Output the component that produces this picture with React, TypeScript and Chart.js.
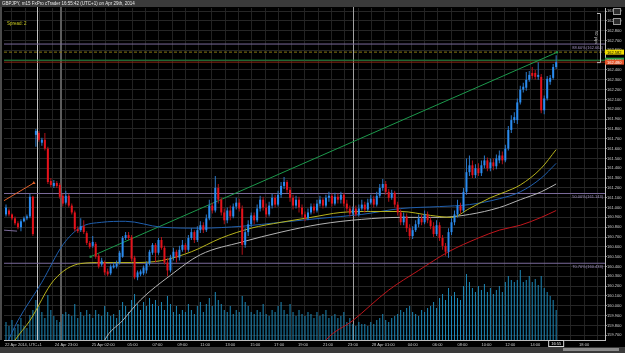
import React, { useEffect, useRef } from 'react';
import { Chart, registerables } from 'chart.js';

Chart.register(...registerables);

// ---------- data (GBPJPY m15) ----------
const OPEN = [
  160.93, 160.97, 160.93, 160.89, 160.84, 160.80, 160.86, 160.89, 160.91, 161.11,
  161.74, 161.76, 161.66, 161.69, 161.60, 161.27, 161.22, 161.25, 161.23, 161.12,
  161.05, 161.12, 161.02, 160.95, 160.78, 160.77, 160.81, 160.74, 160.64, 160.61,
  160.63, 160.51, 160.42, 160.44, 160.35, 160.33, 160.39, 160.40, 160.44, 160.50,
  160.69, 160.72, 160.70, 160.49, 160.29, 160.32, 160.33, 160.36, 160.43, 160.54,
  160.62, 160.54, 160.67, 160.59, 160.44, 160.36, 160.49, 160.55, 160.49, 160.57,
  160.62, 160.57, 160.69, 160.75, 160.67, 160.77, 160.82, 160.77, 160.89, 161.02,
  160.97, 161.20, 161.08, 160.95, 160.87, 160.97, 160.91, 161.01, 161.05, 160.99,
  160.62, 160.75, 160.83, 160.92, 160.87, 160.99, 161.08, 161.00, 160.93, 161.02,
  161.10, 161.03, 161.13, 161.22, 161.26, 161.18, 161.10, 161.02, 161.08, 161.00,
  160.93, 160.89, 160.95, 161.01, 160.97, 161.04, 161.08, 161.02, 161.10, 161.12,
  161.04, 161.11, 161.08, 161.13, 161.04, 160.99, 160.94, 160.99, 160.93, 160.99,
  161.03, 160.98, 161.05, 161.09, 161.03, 161.12, 161.20, 161.24, 161.16, 161.10,
  161.15, 161.03, 160.95, 160.85, 160.91, 160.79, 160.71, 160.77, 160.83, 160.89,
  160.85, 160.93, 160.87, 160.81, 160.73, 160.82, 160.69, 160.61, 160.55, 160.75,
  160.85, 160.93, 161.02, 160.97, 161.16, 161.36, 161.43, 161.33, 161.40, 161.35,
  161.43, 161.48, 161.40, 161.46, 161.42, 161.48, 161.53, 161.48, 161.60, 161.79,
  161.89, 161.89, 162.07, 162.20, 162.22, 162.30, 162.37, 162.37, 162.33, 162.33,
  161.99, 162.11, 162.28, 162.32, 162.43,
];
const HIGH = [
  161.03, 160.99, 160.94, 160.91, 160.86, 160.88, 160.91, 160.93, 161.14, 161.12,
  161.80, 161.78, 161.71, 161.76, 161.62, 161.30, 161.28, 161.27, 161.25, 161.14,
  161.17, 161.14, 161.04, 160.97, 160.81, 160.89, 160.87, 160.76, 160.66, 160.71,
  160.65, 160.53, 160.49, 160.46, 160.38, 160.42, 160.44, 160.46, 160.56, 160.71,
  160.75, 160.75, 160.72, 160.51, 160.36, 160.37, 160.41, 160.45, 160.57, 160.64,
  160.64, 160.69, 160.70, 160.61, 160.49, 160.52, 160.59, 160.57, 160.61, 160.67,
  160.64, 160.72, 160.79, 160.77, 160.81, 160.86, 160.85, 160.93, 161.08, 161.05,
  161.32, 161.24, 161.10, 160.99, 161.00, 161.02, 161.04, 161.10, 161.09, 161.02,
  160.79, 160.87, 160.95, 160.95, 161.03, 161.12, 161.11, 161.04, 161.06, 161.14,
  161.13, 161.17, 161.26, 161.31, 161.28, 161.21, 161.13, 161.12, 161.11, 161.03,
  160.96, 160.99, 161.04, 161.04, 161.08, 161.12, 161.10, 161.13, 161.16, 161.14,
  161.15, 161.14, 161.16, 161.15, 161.08, 161.02, 161.01, 161.02, 161.03, 161.08,
  161.06, 161.09, 161.13, 161.12, 161.16, 161.24, 161.29, 161.27, 161.19, 161.18,
  161.17, 161.06, 160.98, 160.95, 160.94, 160.83, 160.81, 160.87, 160.93, 160.93,
  160.97, 160.96, 160.90, 160.85, 160.87, 160.85, 160.72, 160.64, 160.79, 160.89,
  160.97, 161.08, 161.05, 161.20, 161.50, 161.53, 161.48, 161.44, 161.45, 161.48,
  161.53, 161.51, 161.50, 161.50, 161.54, 161.58, 161.57, 161.64, 161.83, 161.94,
  161.97, 162.11, 162.24, 162.27, 162.38, 162.39, 162.43, 162.40, 162.48, 162.36,
  162.14, 162.34, 162.35, 162.46, 162.55,
];
const LOW = [
  160.91, 160.91, 160.87, 160.82, 160.78, 160.76, 160.85, 160.87, 160.89, 160.71,
  161.62, 161.67, 161.63, 161.58, 161.24, 161.21, 161.20, 161.20, 161.09, 161.01,
  161.03, 161.00, 160.93, 160.76, 160.74, 160.75, 160.73, 160.62, 160.58, 160.59,
  160.48, 160.38, 160.40, 160.31, 160.30, 160.31, 160.38, 160.38, 160.42, 160.49,
  160.67, 160.67, 160.45, 160.27, 160.26, 160.30, 160.31, 160.33, 160.41, 160.52,
  160.44, 160.52, 160.57, 160.42, 160.30, 160.34, 160.46, 160.44, 160.46, 160.55,
  160.54, 160.55, 160.67, 160.64, 160.65, 160.74, 160.74, 160.75, 160.87, 160.94,
  160.95, 161.04, 160.92, 160.83, 160.84, 160.87, 160.89, 160.98, 160.96, 160.52,
  160.59, 160.71, 160.80, 160.83, 160.85, 160.96, 160.97, 160.90, 160.91, 160.99,
  161.00, 161.01, 161.10, 161.19, 161.15, 161.06, 160.98, 160.99, 160.95, 160.90,
  160.86, 160.87, 160.93, 160.94, 160.95, 161.01, 160.99, 161.00, 161.06, 161.01,
  161.02, 161.04, 161.04, 161.01, 160.96, 160.91, 160.92, 160.91, 160.91, 160.97,
  160.95, 160.96, 161.03, 161.00, 161.01, 161.10, 161.17, 161.13, 161.06, 161.08,
  161.00, 160.92, 160.82, 160.82, 160.75, 160.67, 160.68, 160.75, 160.80, 160.82,
  160.83, 160.84, 160.78, 160.70, 160.71, 160.66, 160.57, 160.51, 160.49, 160.72,
  160.82, 160.90, 160.94, 160.95, 161.13, 161.32, 161.30, 161.30, 161.32, 161.32,
  161.40, 161.37, 161.37, 161.38, 161.39, 161.45, 161.44, 161.46, 161.58, 161.76,
  161.86, 161.85, 162.05, 162.17, 162.19, 162.28, 162.31, 162.30, 162.30, 161.96,
  161.95, 162.09, 162.25, 162.30, 162.41,
];
const CLOSE = [
  161.00, 160.93, 160.89, 160.84, 160.80, 160.86, 160.89, 160.91, 161.11, 160.73,
  161.78, 161.69, 161.69, 161.60, 161.26, 161.23, 161.25, 161.22, 161.11, 161.04,
  161.12, 161.02, 160.95, 160.78, 160.76, 160.81, 160.75, 160.64, 160.60, 160.65,
  160.50, 160.40, 160.46, 160.34, 160.32, 160.40, 160.41, 160.43, 160.54, 160.69,
  160.72, 160.69, 160.48, 160.29, 160.34, 160.35, 160.39, 160.43, 160.55, 160.62,
  160.54, 160.67, 160.59, 160.44, 160.36, 160.49, 160.55, 160.49, 160.57, 160.62,
  160.57, 160.69, 160.75, 160.67, 160.77, 160.82, 160.77, 160.89, 161.02, 160.97,
  161.20, 161.08, 160.95, 160.87, 160.97, 160.91, 161.01, 161.05, 160.99, 160.62,
  160.75, 160.83, 160.92, 160.87, 160.99, 161.08, 161.00, 160.93, 161.02, 161.10,
  161.03, 161.13, 161.22, 161.26, 161.18, 161.10, 161.02, 161.08, 161.00, 160.93,
  160.89, 160.95, 161.01, 160.97, 161.04, 161.08, 161.02, 161.10, 161.12, 161.04,
  161.11, 161.08, 161.13, 161.04, 160.99, 160.94, 160.98, 160.93, 160.99, 161.03,
  160.98, 161.05, 161.09, 161.03, 161.12, 161.20, 161.24, 161.16, 161.10, 161.15,
  161.03, 160.95, 160.85, 160.91, 160.79, 160.71, 160.77, 160.83, 160.89, 160.85,
  160.93, 160.87, 160.81, 160.73, 160.82, 160.69, 160.61, 160.55, 160.75, 160.85,
  160.93, 161.02, 160.97, 161.16, 161.36, 161.43, 161.33, 161.40, 161.35, 161.43,
  161.48, 161.40, 161.46, 161.42, 161.50, 161.53, 161.48, 161.60, 161.79, 161.89,
  161.92, 162.07, 162.20, 162.23, 162.30, 162.35, 162.34, 162.33, 162.35, 161.99,
  162.11, 162.31, 162.32, 162.43, 162.48,
];
const VOLUME = [
  18, 14, 20, 12, 16, 22, 14, 12, 25, 30,
  40, 34, 28, 22, 45, 30, 24, 20, 18, 26,
  28, 26, 24, 36, 22, 28, 24, 30, 26, 22,
  30, 26, 24, 34, 28, 24, 26, 22, 30, 38,
  34, 28, 40, 46, 36, 30, 38, 34, 42, 36,
  40, 34, 38, 30, 44, 36, 28, 34, 26, 30,
  28, 36, 30, 26, 34, 38, 28, 36, 42, 34,
  48, 40, 36, 30, 28, 34, 26, 30, 28, 44,
  38, 34, 28, 26, 30, 28, 36, 26, 24, 30,
  28, 34, 38, 30, 26, 36, 28, 24, 30, 26,
  24, 28, 26, 22, 28, 24, 26, 30, 22, 24,
  26, 22, 24, 28, 18, 22, 16, 14, 18, 16,
  16, 14, 18, 16, 20, 22, 26, 20, 18, 22,
  24, 26, 30, 28, 32, 34, 28, 26, 24, 30,
  28, 32, 34, 38, 32, 42, 46, 40, 52, 44,
  48, 42, 40, 54, 66, 58, 52, 48, 54, 50,
  56, 48, 52, 46, 50, 54, 48, 58, 64, 60,
  58, 60, 70, 58, 60, 64, 58, 61, 55, 64,
  52, 48, 44, 40, 30,
];

// moving averages: [bar index, price]
const MA_YELLOW = [
  [0, 159.5], [3, 159.65], [8, 159.85], [16, 160.26], [25, 160.43], [32, 160.44], [42, 160.44],
  [52, 160.46], [62, 160.55], [72, 160.69], [82, 160.79], [92, 160.85], [102, 160.9], [112, 160.95],
  [122, 160.96], [132, 160.96], [142, 160.92], [149, 160.9], [155, 160.99], [162, 161.1],
  [167, 161.16], [172, 161.23], [179, 161.4], [184, 161.59],
];
const MA_BLUE = [
  [0, 159.6], [4, 159.85], [12, 160.24], [19, 160.62], [25, 160.8], [32, 160.85], [40, 160.86],
  [52, 160.8], [65, 160.79], [79, 160.81], [92, 160.85], [105, 160.89], [119, 160.93], [132, 160.99],
  [145, 161.01], [155, 161.03], [165, 161.09], [172, 161.16], [179, 161.3], [184, 161.45],
];
const MA_GRAY = [
  [30, 159.4], [33, 159.65], [39, 159.85], [45, 160.06], [55, 160.31], [65, 160.52], [79, 160.65],
  [92, 160.75], [105, 160.83], [119, 160.88], [132, 160.9], [145, 160.9], [155, 160.93],
  [165, 161.0], [172, 161.08], [179, 161.16], [184, 161.24],
];
const MA_RED = [
  [105, 159.55], [107, 159.65], [116, 159.85], [128, 160.16], [138, 160.36], [148, 160.55],
  [158, 160.69], [165, 160.77], [172, 160.82], [179, 160.9], [184, 160.97],
];
const TRENDLINE = [[28.3, 160.5], [184.3, 162.58]];
const ORANGE_LINE = [[-0.67, 161.07], [9.3, 161.25]];
const OLD_LEVEL = [[-0.67, 160.77], [3.7, 160.76]];

const FIB_PRICES = [162.664, 161.143, 160.433];
const FIB_LABELS = ['88.60%(162.664)', '50.00%(161.143)', '70.70%(160.433)'];
const ALERT_PRICE = 162.582;
const ASK = 162.5;
const BID = 162.48;
const PIPS_RANGE = 0.5;
const SPREAD = 2;

const PRICE_TICKS = [
  159.7, 159.8, 159.9, 160.0, 160.1, 160.2, 160.3, 160.4, 160.5, 160.6, 160.7, 160.8,
  160.9, 161.0, 161.1, 161.2, 161.3, 161.4, 161.5, 161.6, 161.7, 161.8, 161.9, 162.0,
  162.1, 162.2, 162.3, 162.4, 162.5, 162.6, 162.7, 162.8, 162.9, 163.0,
];
const TIME_TICKS = [
  -0.33, 16.33, 28.67, 40.67, 49, 57.33, 65, 73.33, 81.67, 89.67, 97.67, 106, 114.33,
  122.33, 134.33, 142.67, 151, 159, 167, 175.33, 191.67,
];
const TIME_LABELS = [
  '22 Apr 2014, UTC+1', '24 Apr 23:00', '25 Apr 02:00', '05:00', '07:00', '09:00', '11:00',
  '13:00', '15:00', '17:00', '19:00', '21:00', '23:00', '28 Apr 01:00', '04:00', '06:00',
  '08:00', '10:00', '12:00', '14:00', '18:00',
];
const SESSION_BREAKS = [10.33, 18.33, 116];
const NOW_LABEL = '16:55';
const TITLE = 'GBPJPY, m15 FxPro cTrader 16:55:42 (UTC+1) on Apr 29th, 2014';

// ---------- layout ----------
const X_MIN = -0.6667;
const X_MAX = 200.3333;
const Y_MIN = 159.652;
const Y_MAX = 163.031;
const FONT = 'Liberation Sans, Arial, sans-serif';

const pts = (arr: number[][]) => arr.map(([x, y]) => ({ x, y }));
const hline = (p: number) => [{ x: X_MIN, y: p }, { x: X_MAX, y: p }];

const decor = {
  id: 'decor',
  beforeDraw(chart: any) {
    const { ctx, width, height } = chart;
    ctx.save();
    ctx.fillStyle = '#000';
    ctx.fillRect(0, 0, width, height);
    ctx.restore();
  },
  beforeDatasetsDraw(chart: any) {
    const { ctx, chartArea: a } = chart;
    const x = chart.scales.x;
    const styles = [['#c4c4c4', 1], ['#5c5c5c', 2], ['#a0a0a0', 1]];
    ctx.save();
    SESSION_BREAKS.forEach((v, i) => {
      const px = Math.round(x.getPixelForValue(v)) + (styles[i][1] === 1 ? 0.5 : 0);
      ctx.strokeStyle = styles[i][0];
      ctx.lineWidth = styles[i][1];
      ctx.beginPath();
      ctx.moveTo(px, a.top - 1);
      ctx.lineTo(px, a.bottom);
      ctx.stroke();
    });
    ctx.restore();
  },
  afterDraw(chart: any) {
    const { ctx, chartArea: a, width, height } = chart;
    const y = chart.scales.y;
    const x = chart.scales.x;
    ctx.save();
    // title bar
    ctx.fillStyle = '#3a3a3a';
    ctx.fillRect(0, 0, width, 7);
    ctx.fillStyle = '#e8e8e8';
    ctx.font = `4.5px ${FONT}`;
    ctx.textBaseline = 'middle';
    ctx.textAlign = 'left';
    ctx.fillText(TITLE, 2, 3.8);
    // left strip & bottom strip
    ctx.fillStyle = '#4a4a4a';
    ctx.fillRect(0, 7, 2, a.bottom - 7);
    ctx.fillStyle = '#3a3a3a';
    ctx.fillRect(0, 347, width, height - 347);
    ctx.fillStyle = '#8c8c8c';
    ctx.fillRect(563, 348, 56, 3);
    // spread
    ctx.fillStyle = '#c9c820';
    ctx.font = `4.5px ${FONT}`;
    ctx.fillText(`Spread: ${SPREAD}`, 7, 23.5);
    // fib labels
    ctx.fillStyle = '#a494c4';
    ctx.font = `4px ${FONT}`;
    ctx.textAlign = 'right';
    ctx.textBaseline = 'top';
    FIB_PRICES.forEach((p, i) => {
      ctx.fillText(FIB_LABELS[i], a.right - 2, y.getPixelForValue(p) + 1.5);
    });
    // price tags
    const tags: [number, string, string][] = [
      [ALERT_PRICE, '#f0dc00', '#000'],
      [ASK, '#2aa04a', '#fff'],
      [BID, '#e4552a', '#fff'],
    ];
    ctx.textAlign = 'left';
    ctx.textBaseline = 'middle';
    tags.forEach(([p, bg, fg]) => {
      const py = y.getPixelForValue(p);
      ctx.fillStyle = bg;
      ctx.fillRect(a.right, py - 2.5, 19, 5);
      ctx.fillStyle = fg;
      ctx.fillText(p.toFixed(3), a.right + 2, py + 0.3);
    });
    // 50 pips bracket
    const top = y.getPixelForValue(BID + PIPS_RANGE);
    const bot = y.getPixelForValue(BID);
    ctx.strokeStyle = '#bdbdbd';
    ctx.lineWidth = 1;
    ctx.beginPath();
    ctx.moveTo(597, top + 0.5);
    ctx.lineTo(600.5, top + 0.5);
    ctx.lineTo(600.5, bot + 0.5);
    ctx.lineTo(597, bot + 0.5);
    ctx.stroke();
    ctx.save();
    ctx.translate(596, (top + bot) / 2);
    ctx.rotate(Math.PI / 2);
    ctx.fillStyle = '#c8c8c8';
    ctx.textAlign = 'center';
    ctx.textBaseline = 'middle';
    ctx.fillText(`${Math.round(PIPS_RANGE * 100)} pips`, 0, 0);
    ctx.restore();
    // icons
    ctx.fillStyle = '#2c2c2c';
    ctx.strokeStyle = '#9a9a9a';
    [8.5, 18.5].forEach((iy) => {
      ctx.fillRect(613.5, iy, 7, 6);
      ctx.strokeRect(613.5, iy, 7, 6);
    });
    // now box
    const nx = x.getPixelForValue(CLOSE.length - 1);
    ctx.fillStyle = '#000';
    ctx.fillRect(nx - 8, 340.5, 16, 6);
    ctx.strokeStyle = '#d8d8d8';
    ctx.strokeRect(nx - 8 + 0.5, 340.5, 15, 6);
    ctx.fillStyle = '#f0f0f0';
    ctx.textAlign = 'center';
    ctx.font = `4px ${FONT}`;
    ctx.fillText(NOW_LABEL, nx, 343.8);
    ctx.restore();
  },
};

export default function App() {
  const ref = useRef<HTMLCanvasElement>(null);
  useEffect(() => {
    document.body.style.margin = '0';
    Chart.defaults.font.family = FONT;
    const idx = CLOSE.map((_, i) => i);
    const up = (i: number) => CLOSE[i] >= OPEN[i];
    const lineDs = (data: any, color: string, order: number, extra: any = {}) => ({
      type: 'line',
      data,
      borderColor: color,
      borderWidth: 1,
      pointRadius: 0,
      cubicInterpolationMode: 'monotone',
      xAxisID: 'x',
      yAxisID: 'y',
      order,
      ...extra,
    });
    const chart = new Chart(ref.current as HTMLCanvasElement, {
      type: 'bar',
      data: {
        datasets: [
          {
            type: 'bar',
            data: idx.map((i) => ({ x: i, y: [OPEN[i], CLOSE[i]] })),
            backgroundColor: idx.map((i) => (up(i) ? '#2a8cf0' : '#e4121b')),
            barThickness: 2,
            grouped: false,
            inflateAmount: 0,
            borderWidth: 0,
            xAxisID: 'x',
            yAxisID: 'y',
            order: 0,
          },
          {
            type: 'bar',
            data: idx.map((i) => ({ x: i, y: [LOW[i], HIGH[i]] })),
            backgroundColor: idx.map((i) => (up(i) ? '#2a78c8' : '#b01218')),
            barThickness: 1,
            grouped: false,
            inflateAmount: 0,
            borderWidth: 0,
            xAxisID: 'x',
            yAxisID: 'y',
            order: 1,
          },
          lineDs(pts(MA_YELLOW), '#b8b41c', 2),
          lineDs(pts(MA_BLUE), '#1f5fae', 2),
          lineDs(pts(MA_GRAY), '#b4b4b4', 2),
          lineDs(pts(MA_RED), '#c0161c', 2),
          lineDs(pts(TRENDLINE), '#1c9a4c', 2, {
            cubicInterpolationMode: 'default', tension: 0,
            pointRadius: 1.5, pointStyle: 'rect', pointBackgroundColor: '#1c9a4c', pointBorderWidth: 0,
          }),
          lineDs(pts(ORANGE_LINE), '#e0602a', 2, {
            cubicInterpolationMode: 'default', tension: 0,
            pointRadius: [0, 2], pointStyle: 'triangle', pointBackgroundColor: '#e0602a', pointBorderWidth: 0,
          }),
          lineDs(pts(OLD_LEVEL), '#7c6c9c', 3, { cubicInterpolationMode: 'default', tension: 0 }),
          ...FIB_PRICES.map((p) =>
            lineDs(hline(p), '#7a6a9a', 3, { cubicInterpolationMode: 'default', tension: 0 })
          ),
          lineDs(hline(ALERT_PRICE), '#8a7a14', 3, {
            cubicInterpolationMode: 'default', tension: 0, borderDash: [3, 2],
          }),
          lineDs(hline(ASK), '#1f8a3c', 3, { cubicInterpolationMode: 'default', tension: 0 }),
          lineDs(hline(BID), '#8c2a14', 3, { cubicInterpolationMode: 'default', tension: 0 }),
          {
            type: 'bar',
            data: idx.map((i) => ({ x: i, y: VOLUME[i] })),
            backgroundColor: '#1c88b8',
            barThickness: 1,
            grouped: false,
            inflateAmount: 0,
            borderWidth: 0,
            xAxisID: 'x',
            yAxisID: 'yv',
            order: 10,
          },
        ] as any,
      },
      options: {
        responsive: false,
        devicePixelRatio: 1,
        animation: false,
        events: [],
        layout: { padding: { left: 2, top: 8, right: 0, bottom: 0 } },
        plugins: { legend: { display: false }, tooltip: { enabled: false }, title: { display: false } },
        scales: {
          x: {
            type: 'linear',
            min: X_MIN,
            max: X_MAX,
            offset: false,
            afterBuildTicks: (s: any) => {
              s.ticks = TIME_TICKS.map((v) => ({ value: v }));
            },
            afterFit: (s: any) => {
              s.height = 13;
            },
            ticks: {
              autoSkip: false,
              maxRotation: 0,
              minRotation: 0,
              align: 'start',
              padding: 2,
              color: '#d0d0d0',
              font: { size: 4 },
              callback: (_v: any, i: number) => TIME_LABELS[i],
            },
            grid: { display: false, drawTicks: false, tickLength: 0 },
            border: { display: true, color: '#bdbdbd', width: 1 },
          },
          xg: {
            type: 'linear',
            position: 'top',
            min: X_MIN,
            max: X_MAX,
            offset: false,
            afterFit: (s: any) => {
              s.height = 0;
            },
            ticks: { display: false, stepSize: 40 / 9, maxTicksLimit: 1000 },
            grid: { color: '#222222', drawTicks: false },
            border: { display: false },
          },
          y: {
            type: 'linear',
            position: 'right',
            min: Y_MIN,
            max: Y_MAX,
            afterBuildTicks: (s: any) => {
              s.ticks = PRICE_TICKS.map((v) => ({ value: v }));
            },
            afterFit: (s: any) => {
              s.width = 20;
            },
            ticks: {
              autoSkip: false,
              padding: 0,
              color: '#d0d0d0',
              font: { size: 4 },
              callback: (v: any) => Number(v).toFixed(3),
            },
            grid: { color: '#262626', tickLength: 2, tickColor: '#8a8a8a' },
            border: { color: '#bdbdbd' },
          },
          yv: { type: 'linear', display: false, min: 0, max: 332 },
        },
      } as any,
      plugins: [decor],
    });
    return () => chart.destroy();
  }, []);
  return (
    <div style={{ width: 625, height: 353 }}>
      <canvas ref={ref} width={625} height={353} style={{ display: 'block' }} />
    </div>
  );
}
